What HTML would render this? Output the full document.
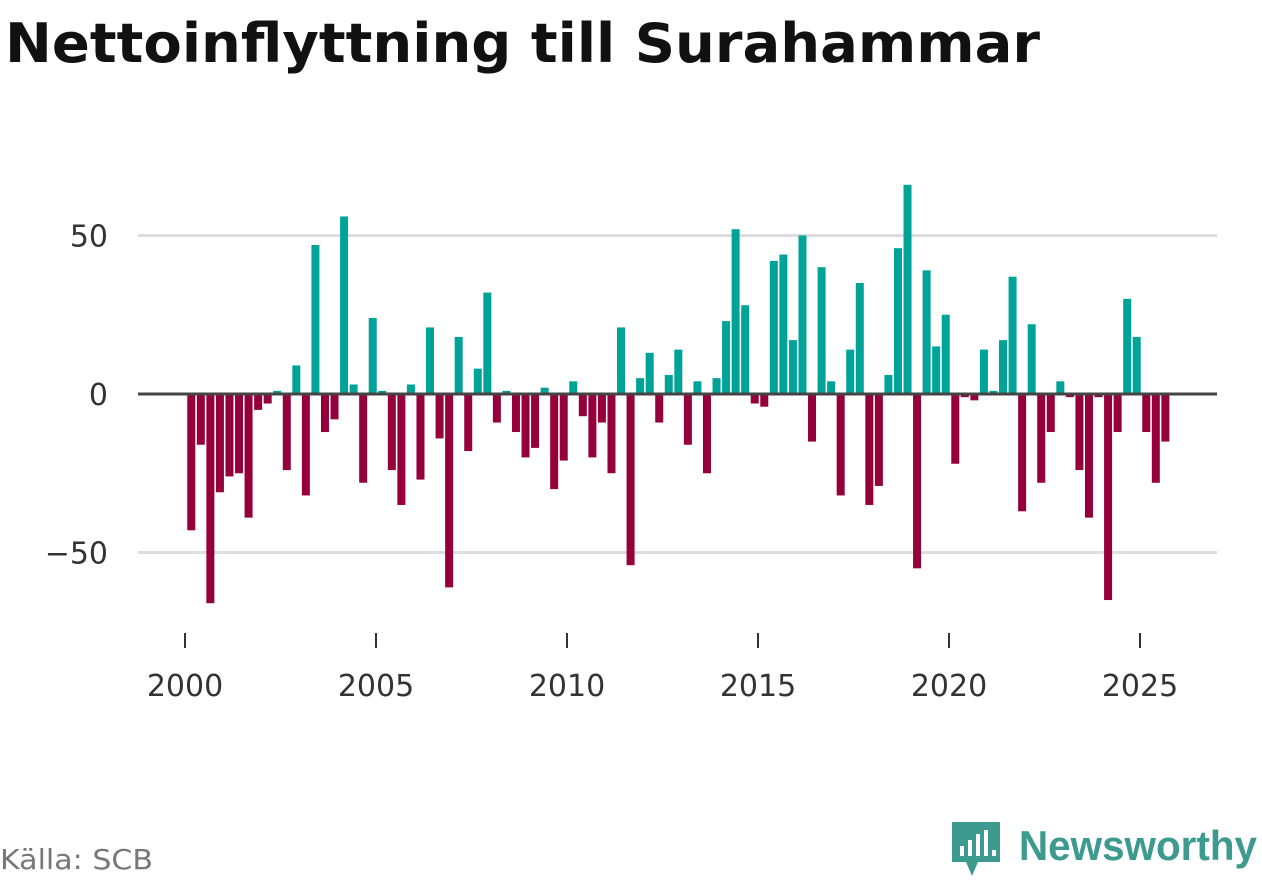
<!DOCTYPE html>
<html><head><meta charset="utf-8"><style>
body{margin:0;background:#fff;width:1262px;height:879px;overflow:hidden;font-family:"Liberation Sans","DejaVu Sans",sans-serif}
</style></head><body>
<svg width="1262" height="879" xmlns="http://www.w3.org/2000/svg">
<text x="5" y="62" font-size="54" font-weight="bold" fill="#111" textLength="1035" lengthAdjust="spacingAndGlyphs" font-family="DejaVu Sans, Liberation Sans, sans-serif">Nettoinflyttning till Surahammar</text>
<g id="grid"></g><g id="bars"></g><g id="xaxis"></g>
<text x="0" y="869" font-size="28" fill="#777" textLength="153" lengthAdjust="spacingAndGlyphs" font-family="DejaVu Sans, Liberation Sans, sans-serif">Källa: SCB</text>
<g>
<path d="M952 822 h48 v40 h-22 l-6 14 l-6 -14 h-14 z" fill="#3d9a8f"/>
<rect x="960" y="846" width="4" height="10" fill="#fff"/><rect x="968" y="840" width="4" height="16" fill="#fff"/><rect x="976" y="834" width="4" height="22" fill="#fff"/><rect x="984" y="830" width="4" height="26" fill="#fff"/><rect x="992" y="850" width="4" height="6" fill="#fff"/>
<text x="1019" y="860" font-size="42" font-weight="bold" fill="#3d9a8f" textLength="238" lengthAdjust="spacingAndGlyphs" font-family="Liberation Sans, sans-serif">Newsworthy</text>
</g>
</svg>
<script>
const quarters0Year = 2000;
const values = [-43,-16,-66,-31,-26,-25,-39,-5,-3,1,-24,9,-32,47,-12,-8,56,3,-28,24,1,-24,-35,3,-27,21,-14,-61,18,-18,8,32,-9,1,-12,-20,-17,2,-30,-21,4,-7,-20,-9,-25,21,-54,5,13,-9,6,14,-16,4,-25,5,23,52,28,-3,-4,42,44,17,50,-15,40,4,-32,14,35,-35,-29,6,46,66,-55,39,15,25,-22,-1,-2,14,1,17,37,-37,22,-28,-12,4,-1,-24,-39,-1,-65,-12,30,18,-12,-28,-15];
const yTicks = [50,0,-50];
const yTickLabels = ["50","0","\u221250"];
const xTicks = [2000,2005,2010,2015,2020,2025];
const NS="http://www.w3.org/2000/svg";
const x = yr => 185 + (yr-2000)*38.2;
const y = v => 394 - v*3.17;
const grid=document.getElementById('grid'), bars=document.getElementById('bars'), xa=document.getElementById('xaxis');
function mk(tag,attrs,parent){const e=document.createElementNS(NS,tag);for(const k in attrs)e.setAttribute(k,attrs[k]);parent.appendChild(e);return e;}
yTicks.forEach((t,i)=>{
  if(t!==0){const l=mk('line',{x1:138,x2:1217,y1:y(t),y2:y(t),stroke:'#ddd','stroke-width':3},grid);
  
  }
  const tx=mk('text',{x:108,y:y(t)+11,'text-anchor':'end','font-size':30,fill:'#333','font-family':'DejaVu Sans, Liberation Sans, sans-serif'},grid);
  tx.textContent=yTickLabels[i];
  
  
});
values.forEach((v,i)=>{
  const cx=x(quarters0Year+(i+0.5)/4)+1.5;
  const r=mk('rect',{x:cx-4,y:Math.min(y(v),y(0)),width:8,height:Math.abs(y(v)-y(0)),fill:v>=0?'#00a398':'#96003a'},bars);
  
  
});
const z=mk('line',{x1:138,x2:1217,y1:y(0),y2:y(0),stroke:'#444','stroke-width':3},bars);


xTicks.forEach(t=>{
  const l=mk('line',{x1:x(t),x2:x(t),y1:633,y2:648,stroke:'#333','stroke-width':2},xa);
  
  
  const tx=mk('text',{x:x(t),y:696,'text-anchor':'middle','font-size':30,fill:'#333','font-family':'DejaVu Sans, Liberation Sans, sans-serif'},xa);
  tx.textContent=t;
  
  
});
</script>
</body></html>
